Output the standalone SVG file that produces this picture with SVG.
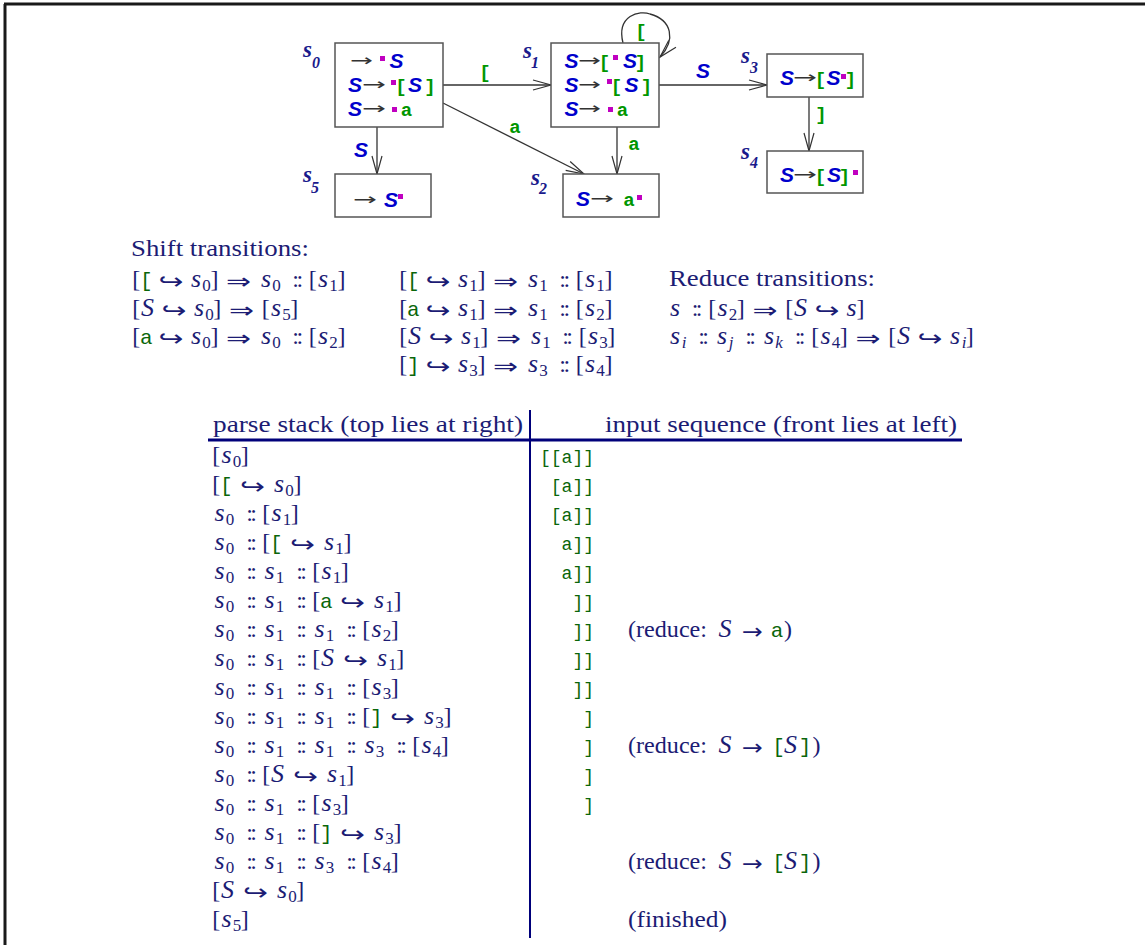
<svg xmlns="http://www.w3.org/2000/svg" width="1145" height="945" viewBox="0 0 1145 945">
<defs>
<style>
.box{fill:#fff;stroke:#555;stroke-width:1.5}
.edge{fill:none;stroke:#333;stroke-width:1.3}
.sl{font-family:"Liberation Serif",serif;font-style:italic;font-weight:bold;font-size:23px;fill:#1a1a8c}
.sls{font-family:"Liberation Serif",serif;font-style:italic;font-weight:bold;font-size:16px;fill:#1a1a8c}
.ns{font-family:"Liberation Sans",sans-serif;font-weight:bold;font-style:italic;font-size:21px;fill:#0000cc;text-anchor:middle}
.ng{font-family:"Liberation Mono",monospace;font-weight:bold;font-size:19px;fill:#009600;text-anchor:middle}
.na{font-family:"DejaVu Sans",sans-serif;font-size:16px;fill:#333}
.dot{fill:#c000c0}
.tx{font-family:"Liberation Serif",serif;font-size:24px;fill:#1c1c74}
.it{font-style:italic;font-size:26px}
.sb{font-size:17px}
.si{font-style:italic;font-size:17px}
.cc{letter-spacing:-2.5px}
.gm{font-family:"Liberation Mono",monospace;font-size:21px;fill:#0a660a}
.gi{font-family:"Liberation Mono",monospace;font-size:18px;fill:#0a660a;text-anchor:end}
.ar{font-family:"DejaVu Sans",sans-serif;font-size:22px;fill:#1c1c74}
.rule{stroke:#00007a;fill:none}
</style>
<marker id="ah" markerUnits="userSpaceOnUse" markerWidth="22" markerHeight="14" refX="19" refY="6" orient="auto"><path d="M1,1 L19,6 L1,11" fill="none" stroke="#333" stroke-width="1.2"/></marker>
</defs>
<rect width="1145" height="945" fill="#fff"/>
<g id="frame"><path d="M4,4 H1145 M5,4 V945" stroke="#1a1a1a" stroke-width="3" fill="none"/></g>

<g id="connectors">
<path class="edge" d="M443,85 L551,85" marker-end="url(#ah)"/>
<path class="edge" d="M659,85 L767,85" marker-end="url(#ah)"/>
<path class="edge" d="M443,103 L584,174" marker-end="url(#ah)"/>
<path class="edge" d="M617,127 L617,174" marker-end="url(#ah)"/>
<path class="edge" d="M377,127 L377,174" marker-end="url(#ah)"/>
<path class="edge" d="M809,97 L809,151" marker-end="url(#ah)"/>
<path class="edge" d="M623,43 C616,15 640,10 650,14 C672,20 676,40 660,57" marker-end="url(#ah)"/>
<text class="ng" x="485" y="78">[</text>
<text class="ng" x="515" y="133">a</text>
<text class="ns" x="361" y="157">S</text>
<text class="ns" x="703" y="78">S</text>
<text class="ng" x="634" y="150">a</text>
<text class="ng" x="821" y="120">]</text>
<text class="ng" x="641" y="37">[</text>
</g>

<g id="s0">
<rect class="box" x="335" y="43" width="108" height="84"/>
<text class="sl" x="303" y="57">s</text><text class="sls" x="312" y="68">0</text>
<text class="na" x="350" y="66" textLength="23" lengthAdjust="spacingAndGlyphs">→</text>
<rect class="dot" x="380" y="56" width="5" height="5"/>
<text class="ns" x="396.5" y="68">S</text>
<text class="ns" x="355" y="92">S</text>
<text class="na" x="362" y="90" textLength="24" lengthAdjust="spacingAndGlyphs">→</text>
<rect class="dot" x="391" y="80" width="5" height="5"/>
<text class="ng" x="401" y="92">[</text>
<text class="ns" x="415" y="92">S</text>
<text class="ng" x="430" y="92">]</text>
<text class="ns" x="355" y="116">S</text>
<text class="na" x="362" y="114" textLength="24" lengthAdjust="spacingAndGlyphs">→</text>
<rect class="dot" x="392" y="107" width="5" height="5"/>
<text class="ng" x="406.5" y="116">a</text>
</g>

<g id="s1">
<rect class="box" x="551" y="43" width="108" height="84"/>
<text class="sl" x="523" y="58">s</text><text class="sls" x="531" y="68">1</text>
<text class="ns" x="571.5" y="68">S</text>
<text class="na" x="578" y="66" textLength="23" lengthAdjust="spacingAndGlyphs">→</text>
<text class="ng" x="604.5" y="68">[</text>
<rect class="dot" x="613" y="55" width="5" height="5"/>
<text class="ns" x="630" y="68">S</text>
<text class="ng" x="640.5" y="68">]</text>
<text class="ns" x="571.5" y="92">S</text>
<text class="na" x="578" y="90" textLength="23" lengthAdjust="spacingAndGlyphs">→</text>
<rect class="dot" x="607" y="79" width="5" height="5"/>
<text class="ng" x="616.5" y="92">[</text>
<text class="ns" x="631.5" y="92">S</text>
<text class="ng" x="646.5" y="92">]</text>
<text class="ns" x="571.5" y="116">S</text>
<text class="na" x="578" y="114" textLength="23" lengthAdjust="spacingAndGlyphs">→</text>
<rect class="dot" x="608" y="107" width="5" height="5"/>
<text class="ng" x="622.5" y="116">a</text>
</g>

<g id="s2">
<rect class="box" x="563" y="174" width="96" height="43"/>
<text class="sl" x="531" y="185">s</text><text class="sls" x="539" y="194">2</text>
<text class="ns" x="583" y="206">S</text>
<text class="na" x="590" y="204" textLength="24" lengthAdjust="spacingAndGlyphs">→</text>
<text class="ng" x="629" y="206">a</text>
<rect class="dot" x="637" y="195" width="5" height="5"/>
</g>

<g id="s3">
<rect class="box" x="767" y="54" width="96" height="43"/>
<text class="sl" x="741" y="63">s</text><text class="sls" x="750" y="73">3</text>
<text class="ns" x="787" y="85">S</text>
<text class="na" x="793" y="83" textLength="24" lengthAdjust="spacingAndGlyphs">→</text>
<text class="ng" x="820.5" y="85">[</text>
<text class="ns" x="833.5" y="85">S</text>
<rect class="dot" x="841" y="74" width="5" height="5"/>
<text class="ng" x="850.5" y="85">]</text>
</g>

<g id="s4">
<rect class="box" x="767" y="151" width="96" height="42"/>
<text class="sl" x="741" y="159">s</text><text class="sls" x="750" y="168">4</text>
<text class="ns" x="787" y="182">S</text>
<text class="na" x="793" y="180" textLength="24" lengthAdjust="spacingAndGlyphs">→</text>
<text class="ng" x="820.5" y="182">[</text>
<text class="ns" x="834" y="182">S</text>
<text class="ng" x="844.5" y="182">]</text>
<rect class="dot" x="853" y="170" width="5" height="5"/>
</g>

<g id="s5">
<rect class="box" x="335" y="174" width="96" height="43"/>
<text class="sl" x="303" y="182">s</text><text class="sls" x="311" y="193">5</text>
<text class="na" x="353" y="205" textLength="24" lengthAdjust="spacingAndGlyphs">→</text>
<text class="ns" x="391" y="207">S</text>
<rect class="dot" x="398" y="194" width="5" height="5"/>
</g>

<g id="shift">
<text class="tx" x="131" y="256" textLength="178" lengthAdjust="spacingAndGlyphs">Shift transitions:</text>
<text class="tx" text-anchor="middle"><tspan x="136.2" y="287">[</tspan><tspan class="gm" x="146.3" y="287">[</tspan><tspan class="it" x="196.1" y="287">s</tspan><tspan class="sb" x="206.6" y="291">0</tspan><tspan x="214.4" y="287">]</tspan><tspan class="it" x="266.1" y="287">s</tspan><tspan class="sb" x="276.6" y="291">0</tspan><tspan class="cc" x="296.4" y="287">::</tspan><tspan x="312.8" y="287">[</tspan><tspan class="it" x="323.1" y="287">s</tspan><tspan class="sb" x="333.6" y="291">1</tspan><tspan x="341.4" y="287">]</tspan></text>
<text class="ar" x="158.6" y="289" textLength="25" lengthAdjust="spacingAndGlyphs">↪</text>
<text class="ar" x="226.1" y="289" textLength="25" lengthAdjust="spacingAndGlyphs">⇒</text>
<text class="tx" text-anchor="middle"><tspan x="136.2" y="316">[</tspan><tspan class="it" x="147.5" y="316">S</tspan><tspan class="it" x="199" y="316">s</tspan><tspan class="sb" x="209.5" y="320">0</tspan><tspan x="217.3" y="316">]</tspan><tspan x="265.7" y="316">[</tspan><tspan class="it" x="276" y="316">s</tspan><tspan class="sb" x="286.5" y="320">5</tspan><tspan x="294.3" y="316">]</tspan></text>
<text class="ar" x="161.5" y="318" textLength="25" lengthAdjust="spacingAndGlyphs">↪</text>
<text class="ar" x="229" y="318" textLength="25" lengthAdjust="spacingAndGlyphs">⇒</text>
<text class="tx" text-anchor="middle"><tspan x="136.2" y="344">[</tspan><tspan class="gm" x="146.3" y="344">a</tspan><tspan class="it" x="196.1" y="344">s</tspan><tspan class="sb" x="206.6" y="348">0</tspan><tspan x="214.4" y="344">]</tspan><tspan class="it" x="266.1" y="344">s</tspan><tspan class="sb" x="276.6" y="348">0</tspan><tspan class="cc" x="296.4" y="344">::</tspan><tspan x="312.8" y="344">[</tspan><tspan class="it" x="323.1" y="344">s</tspan><tspan class="sb" x="333.6" y="348">2</tspan><tspan x="341.4" y="344">]</tspan></text>
<text class="ar" x="158.6" y="346" textLength="25" lengthAdjust="spacingAndGlyphs">↪</text>
<text class="ar" x="226.1" y="346" textLength="25" lengthAdjust="spacingAndGlyphs">⇒</text>

<text class="tx" text-anchor="middle"><tspan x="403.2" y="287">[</tspan><tspan class="gm" x="413.3" y="287">[</tspan><tspan class="it" x="463.1" y="287">s</tspan><tspan class="sb" x="473.6" y="291">1</tspan><tspan x="481.4" y="287">]</tspan><tspan class="it" x="533.1" y="287">s</tspan><tspan class="sb" x="543.6" y="291">1</tspan><tspan class="cc" x="563.4" y="287">::</tspan><tspan x="579.8" y="287">[</tspan><tspan class="it" x="590.1" y="287">s</tspan><tspan class="sb" x="600.6" y="291">1</tspan><tspan x="608.4" y="287">]</tspan></text>
<text class="ar" x="425.6" y="289" textLength="25" lengthAdjust="spacingAndGlyphs">↪</text>
<text class="ar" x="493.1" y="289" textLength="25" lengthAdjust="spacingAndGlyphs">⇒</text>
<text class="tx" text-anchor="middle"><tspan x="403.2" y="316">[</tspan><tspan class="gm" x="413.3" y="316">a</tspan><tspan class="it" x="463.1" y="316">s</tspan><tspan class="sb" x="473.6" y="320">1</tspan><tspan x="481.4" y="316">]</tspan><tspan class="it" x="533.1" y="316">s</tspan><tspan class="sb" x="543.6" y="320">1</tspan><tspan class="cc" x="563.4" y="316">::</tspan><tspan x="579.8" y="316">[</tspan><tspan class="it" x="590.1" y="316">s</tspan><tspan class="sb" x="600.6" y="320">2</tspan><tspan x="608.4" y="316">]</tspan></text>
<text class="ar" x="425.6" y="318" textLength="25" lengthAdjust="spacingAndGlyphs">↪</text>
<text class="ar" x="493.1" y="318" textLength="25" lengthAdjust="spacingAndGlyphs">⇒</text>
<text class="tx" text-anchor="middle"><tspan x="403.2" y="344">[</tspan><tspan class="it" x="414.5" y="344">S</tspan><tspan class="it" x="466" y="344">s</tspan><tspan class="sb" x="476.5" y="348">1</tspan><tspan x="484.3" y="344">]</tspan><tspan class="it" x="536" y="344">s</tspan><tspan class="sb" x="546.5" y="348">1</tspan><tspan class="cc" x="566.3" y="344">::</tspan><tspan x="582.7" y="344">[</tspan><tspan class="it" x="593" y="344">s</tspan><tspan class="sb" x="603.5" y="348">3</tspan><tspan x="611.3" y="344">]</tspan></text>
<text class="ar" x="428.5" y="346" textLength="25" lengthAdjust="spacingAndGlyphs">↪</text>
<text class="ar" x="496" y="346" textLength="25" lengthAdjust="spacingAndGlyphs">⇒</text>
<text class="tx" text-anchor="middle"><tspan x="403.2" y="372">[</tspan><tspan class="gm" x="413.3" y="372">]</tspan><tspan class="it" x="463.1" y="372">s</tspan><tspan class="sb" x="473.6" y="376">3</tspan><tspan x="481.4" y="372">]</tspan><tspan class="it" x="533.1" y="372">s</tspan><tspan class="sb" x="543.6" y="376">3</tspan><tspan class="cc" x="563.4" y="372">::</tspan><tspan x="579.8" y="372">[</tspan><tspan class="it" x="590.1" y="372">s</tspan><tspan class="sb" x="600.6" y="376">4</tspan><tspan x="608.4" y="372">]</tspan></text>
<text class="ar" x="425.6" y="374" textLength="25" lengthAdjust="spacingAndGlyphs">↪</text>
<text class="ar" x="493.1" y="374" textLength="25" lengthAdjust="spacingAndGlyphs">⇒</text>
</g>

<g id="reduce">
<text class="tx" x="669" y="286" textLength="206" lengthAdjust="spacingAndGlyphs">Reduce transitions:</text>
<text class="tx" text-anchor="middle"><tspan class="it" x="675" y="316">s</tspan><tspan class="cc" x="695.8" y="316">::</tspan><tspan x="712.2" y="316">[</tspan><tspan class="it" x="722.5" y="316">s</tspan><tspan class="sb" x="733" y="320">2</tspan><tspan x="740.8" y="316">]</tspan><tspan x="789.2" y="316">[</tspan><tspan class="it" x="800.5" y="316">S</tspan><tspan class="it" x="851.5" y="316">s</tspan><tspan x="860.6" y="316">]</tspan></text>
<text class="ar" x="752.5" y="318" textLength="25" lengthAdjust="spacingAndGlyphs">⇒</text>
<text class="ar" x="814.5" y="318" textLength="25" lengthAdjust="spacingAndGlyphs">↪</text>
<text class="tx" text-anchor="middle"><tspan class="it" x="675" y="344">s</tspan><tspan class="si" x="684" y="348">i</tspan><tspan class="cc" x="702.3" y="344">::</tspan><tspan class="it" x="722" y="344">s</tspan><tspan class="si" x="731" y="348">j</tspan><tspan class="cc" x="749.3" y="344">::</tspan><tspan class="it" x="769" y="344">s</tspan><tspan class="si" x="779" y="348">k</tspan><tspan class="cc" x="798.8" y="344">::</tspan><tspan x="815.2" y="344">[</tspan><tspan class="it" x="825.5" y="344">s</tspan><tspan class="sb" x="836" y="348">4</tspan><tspan x="843.8" y="344">]</tspan><tspan x="892.2" y="344">[</tspan><tspan class="it" x="903.5" y="344">S</tspan><tspan class="it" x="955" y="344">s</tspan><tspan class="si" x="964" y="348">i</tspan><tspan x="969.8" y="344">]</tspan></text>
<text class="ar" x="855.5" y="346" textLength="25" lengthAdjust="spacingAndGlyphs">⇒</text>
<text class="ar" x="917.5" y="346" textLength="25" lengthAdjust="spacingAndGlyphs">↪</text>
</g>

<g id="table">
<path class="rule" stroke-width="3" d="M208,440 H962"/>
<path class="rule" stroke-width="2" d="M530,410 V938"/>
<text class="tx" x="213" y="432" textLength="310" lengthAdjust="spacingAndGlyphs">parse stack (top lies at right)</text>
<text class="tx" x="605" y="432" textLength="352" lengthAdjust="spacingAndGlyphs">input sequence (front lies at left)</text>

<text class="tx" text-anchor="middle"><tspan x="216.2" y="463">[</tspan><tspan class="it" x="226.5" y="463">s</tspan><tspan class="sb" x="237" y="467">0</tspan><tspan x="244.8" y="463">]</tspan></text>
<text class="tx" text-anchor="middle"><tspan x="216.2" y="492">[</tspan><tspan class="gm" x="226.3" y="492">[</tspan><tspan class="it" x="279.1" y="492">s</tspan><tspan class="sb" x="289.6" y="496">0</tspan><tspan x="297.4" y="492">]</tspan></text>
<text class="ar" x="240.1" y="494" textLength="25" lengthAdjust="spacingAndGlyphs">↪</text>
<text class="tx" text-anchor="middle"><tspan class="it" x="219.5" y="521">s</tspan><tspan class="sb" x="230" y="525">0</tspan><tspan class="cc" x="250.3" y="521">::</tspan><tspan x="266.2" y="521">[</tspan><tspan class="it" x="276.5" y="521">s</tspan><tspan class="sb" x="287" y="525">1</tspan><tspan x="294.8" y="521">]</tspan></text>
<text class="tx" text-anchor="middle"><tspan class="it" x="219.5" y="550">s</tspan><tspan class="sb" x="230" y="554">0</tspan><tspan class="cc" x="250.3" y="550">::</tspan><tspan x="266.2" y="550">[</tspan><tspan class="gm" x="276.3" y="550">[</tspan><tspan class="it" x="329.1" y="550">s</tspan><tspan class="sb" x="339.6" y="554">1</tspan><tspan x="347.4" y="550">]</tspan></text>
<text class="ar" x="290.1" y="552" textLength="25" lengthAdjust="spacingAndGlyphs">↪</text>
<text class="tx" text-anchor="middle"><tspan class="it" x="219.5" y="579">s</tspan><tspan class="sb" x="230" y="583">0</tspan><tspan class="cc" x="250.3" y="579">::</tspan><tspan class="it" x="269.5" y="579">s</tspan><tspan class="sb" x="280" y="583">1</tspan><tspan class="cc" x="300.3" y="579">::</tspan><tspan x="316.2" y="579">[</tspan><tspan class="it" x="326.5" y="579">s</tspan><tspan class="sb" x="337" y="583">1</tspan><tspan x="344.8" y="579">]</tspan></text>
<text class="tx" text-anchor="middle"><tspan class="it" x="219.5" y="608">s</tspan><tspan class="sb" x="230" y="612">0</tspan><tspan class="cc" x="250.3" y="608">::</tspan><tspan class="it" x="269.5" y="608">s</tspan><tspan class="sb" x="280" y="612">1</tspan><tspan class="cc" x="300.3" y="608">::</tspan><tspan x="316.2" y="608">[</tspan><tspan class="gm" x="326.3" y="608">a</tspan><tspan class="it" x="379.1" y="608">s</tspan><tspan class="sb" x="389.6" y="612">1</tspan><tspan x="397.4" y="608">]</tspan></text>
<text class="ar" x="340.1" y="610" textLength="25" lengthAdjust="spacingAndGlyphs">↪</text>
<text class="tx" text-anchor="middle"><tspan class="it" x="219.5" y="637">s</tspan><tspan class="sb" x="230" y="641">0</tspan><tspan class="cc" x="250.3" y="637">::</tspan><tspan class="it" x="269.5" y="637">s</tspan><tspan class="sb" x="280" y="641">1</tspan><tspan class="cc" x="300.3" y="637">::</tspan><tspan class="it" x="319.5" y="637">s</tspan><tspan class="sb" x="330" y="641">1</tspan><tspan class="cc" x="350.3" y="637">::</tspan><tspan x="366.2" y="637">[</tspan><tspan class="it" x="376.5" y="637">s</tspan><tspan class="sb" x="387" y="641">2</tspan><tspan x="394.8" y="637">]</tspan></text>
<text class="tx" text-anchor="middle"><tspan class="it" x="219.5" y="666">s</tspan><tspan class="sb" x="230" y="670">0</tspan><tspan class="cc" x="250.3" y="666">::</tspan><tspan class="it" x="269.5" y="666">s</tspan><tspan class="sb" x="280" y="670">1</tspan><tspan class="cc" x="300.3" y="666">::</tspan><tspan x="316.2" y="666">[</tspan><tspan class="it" x="327.5" y="666">S</tspan><tspan class="it" x="382" y="666">s</tspan><tspan class="sb" x="392.5" y="670">1</tspan><tspan x="400.3" y="666">]</tspan></text>
<text class="ar" x="343" y="668" textLength="25" lengthAdjust="spacingAndGlyphs">↪</text>
<text class="tx" text-anchor="middle"><tspan class="it" x="219.5" y="695">s</tspan><tspan class="sb" x="230" y="699">0</tspan><tspan class="cc" x="250.3" y="695">::</tspan><tspan class="it" x="269.5" y="695">s</tspan><tspan class="sb" x="280" y="699">1</tspan><tspan class="cc" x="300.3" y="695">::</tspan><tspan class="it" x="319.5" y="695">s</tspan><tspan class="sb" x="330" y="699">1</tspan><tspan class="cc" x="350.3" y="695">::</tspan><tspan x="366.2" y="695">[</tspan><tspan class="it" x="376.5" y="695">s</tspan><tspan class="sb" x="387" y="699">3</tspan><tspan x="394.8" y="695">]</tspan></text>
<text class="tx" text-anchor="middle"><tspan class="it" x="219.5" y="724">s</tspan><tspan class="sb" x="230" y="728">0</tspan><tspan class="cc" x="250.3" y="724">::</tspan><tspan class="it" x="269.5" y="724">s</tspan><tspan class="sb" x="280" y="728">1</tspan><tspan class="cc" x="300.3" y="724">::</tspan><tspan class="it" x="319.5" y="724">s</tspan><tspan class="sb" x="330" y="728">1</tspan><tspan class="cc" x="350.3" y="724">::</tspan><tspan x="366.2" y="724">[</tspan><tspan class="gm" x="376.3" y="724">]</tspan><tspan class="it" x="429.1" y="724">s</tspan><tspan class="sb" x="439.6" y="728">3</tspan><tspan x="447.4" y="724">]</tspan></text>
<text class="ar" x="390.1" y="726" textLength="25" lengthAdjust="spacingAndGlyphs">↪</text>
<text class="tx" text-anchor="middle"><tspan class="it" x="219.5" y="753">s</tspan><tspan class="sb" x="230" y="757">0</tspan><tspan class="cc" x="250.3" y="753">::</tspan><tspan class="it" x="269.5" y="753">s</tspan><tspan class="sb" x="280" y="757">1</tspan><tspan class="cc" x="300.3" y="753">::</tspan><tspan class="it" x="319.5" y="753">s</tspan><tspan class="sb" x="330" y="757">1</tspan><tspan class="cc" x="350.3" y="753">::</tspan><tspan class="it" x="369.5" y="753">s</tspan><tspan class="sb" x="380" y="757">3</tspan><tspan class="cc" x="400.3" y="753">::</tspan><tspan x="416.2" y="753">[</tspan><tspan class="it" x="426.5" y="753">s</tspan><tspan class="sb" x="437" y="757">4</tspan><tspan x="444.8" y="753">]</tspan></text>
<text class="tx" text-anchor="middle"><tspan class="it" x="219.5" y="782">s</tspan><tspan class="sb" x="230" y="786">0</tspan><tspan class="cc" x="250.3" y="782">::</tspan><tspan x="266.2" y="782">[</tspan><tspan class="it" x="277.5" y="782">S</tspan><tspan class="it" x="332" y="782">s</tspan><tspan class="sb" x="342.5" y="786">1</tspan><tspan x="350.3" y="782">]</tspan></text>
<text class="ar" x="293" y="784" textLength="25" lengthAdjust="spacingAndGlyphs">↪</text>
<text class="tx" text-anchor="middle"><tspan class="it" x="219.5" y="811">s</tspan><tspan class="sb" x="230" y="815">0</tspan><tspan class="cc" x="250.3" y="811">::</tspan><tspan class="it" x="269.5" y="811">s</tspan><tspan class="sb" x="280" y="815">1</tspan><tspan class="cc" x="300.3" y="811">::</tspan><tspan x="316.2" y="811">[</tspan><tspan class="it" x="326.5" y="811">s</tspan><tspan class="sb" x="337" y="815">3</tspan><tspan x="344.8" y="811">]</tspan></text>
<text class="tx" text-anchor="middle"><tspan class="it" x="219.5" y="840">s</tspan><tspan class="sb" x="230" y="844">0</tspan><tspan class="cc" x="250.3" y="840">::</tspan><tspan class="it" x="269.5" y="840">s</tspan><tspan class="sb" x="280" y="844">1</tspan><tspan class="cc" x="300.3" y="840">::</tspan><tspan x="316.2" y="840">[</tspan><tspan class="gm" x="326.3" y="840">]</tspan><tspan class="it" x="379.1" y="840">s</tspan><tspan class="sb" x="389.6" y="844">3</tspan><tspan x="397.4" y="840">]</tspan></text>
<text class="ar" x="340.1" y="842" textLength="25" lengthAdjust="spacingAndGlyphs">↪</text>
<text class="tx" text-anchor="middle"><tspan class="it" x="219.5" y="869">s</tspan><tspan class="sb" x="230" y="873">0</tspan><tspan class="cc" x="250.3" y="869">::</tspan><tspan class="it" x="269.5" y="869">s</tspan><tspan class="sb" x="280" y="873">1</tspan><tspan class="cc" x="300.3" y="869">::</tspan><tspan class="it" x="319.5" y="869">s</tspan><tspan class="sb" x="330" y="873">3</tspan><tspan class="cc" x="350.3" y="869">::</tspan><tspan x="366.2" y="869">[</tspan><tspan class="it" x="376.5" y="869">s</tspan><tspan class="sb" x="387" y="873">4</tspan><tspan x="394.8" y="869">]</tspan></text>
<text class="tx" text-anchor="middle"><tspan x="216.2" y="898">[</tspan><tspan class="it" x="227.5" y="898">S</tspan><tspan class="it" x="282" y="898">s</tspan><tspan class="sb" x="292.5" y="902">0</tspan><tspan x="300.3" y="898">]</tspan></text>
<text class="ar" x="243" y="900" textLength="25" lengthAdjust="spacingAndGlyphs">↪</text>
<text class="tx" text-anchor="middle"><tspan x="216.2" y="927">[</tspan><tspan class="it" x="226.5" y="927">s</tspan><tspan class="sb" x="237" y="931">5</tspan><tspan x="244.8" y="927">]</tspan></text>

<text class="gi" x="594" y="463">[[a]]</text>
<text class="gi" x="594" y="492">[a]]</text>
<text class="gi" x="594" y="521">[a]]</text>
<text class="gi" x="594" y="550">a]]</text>
<text class="gi" x="594" y="579">a]]</text>
<text class="gi" x="594" y="608">]]</text>
<text class="gi" x="594" y="637">]]</text>
<text class="gi" x="594" y="666">]]</text>
<text class="gi" x="594" y="695">]]</text>
<text class="gi" x="594" y="724">]</text>
<text class="gi" x="594" y="753">]</text>
<text class="gi" x="594" y="782">]</text>
<text class="gi" x="594" y="811">]</text>

<text class="tx" x="628" y="637" textLength="79" lengthAdjust="spacingAndGlyphs">(reduce:</text>
<text class="tx" text-anchor="middle"><tspan class="it" x="725" y="637">S</tspan><tspan class="gm" x="777" y="637">a</tspan><tspan x="788" y="637">)</tspan></text>
<text class="ar" x="742" y="639" textLength="21" lengthAdjust="spacingAndGlyphs">→</text>
<text class="tx" x="628" y="753" textLength="79" lengthAdjust="spacingAndGlyphs">(reduce:</text>
<text class="tx" text-anchor="middle"><tspan class="it" x="725" y="753">S</tspan><tspan class="gm" x="778.5" y="753">[</tspan><tspan class="it" x="790.5" y="753">S</tspan><tspan class="gm" x="805" y="753">]</tspan><tspan x="816.5" y="753">)</tspan></text>
<text class="ar" x="742" y="755" textLength="21" lengthAdjust="spacingAndGlyphs">→</text>
<text class="tx" x="628" y="869" textLength="79" lengthAdjust="spacingAndGlyphs">(reduce:</text>
<text class="tx" text-anchor="middle"><tspan class="it" x="725" y="869">S</tspan><tspan class="gm" x="778.5" y="869">[</tspan><tspan class="it" x="790.5" y="869">S</tspan><tspan class="gm" x="805" y="869">]</tspan><tspan x="816.5" y="869">)</tspan></text>
<text class="ar" x="742" y="871" textLength="21" lengthAdjust="spacingAndGlyphs">→</text>
<text class="tx" x="628" y="927" textLength="99" lengthAdjust="spacingAndGlyphs">(finished)</text>
</g>
</svg>
